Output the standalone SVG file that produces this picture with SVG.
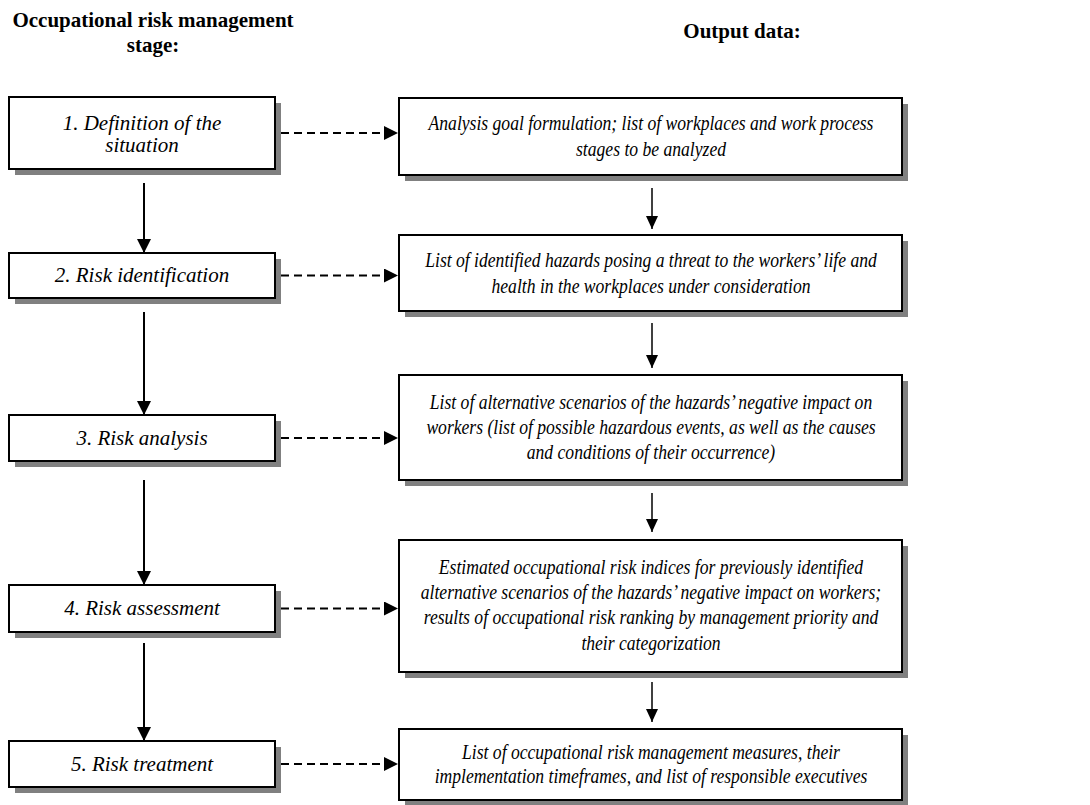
<svg xmlns="http://www.w3.org/2000/svg" width="1090" height="805" viewBox="0 0 1090 805">
<style>
.hdr{font-family:"Liberation Serif","Times New Roman",serif;font-weight:bold;font-size:21px;fill:#000;text-anchor:middle}
.lt{font-family:"Liberation Serif","Times New Roman",serif;font-style:italic;font-size:21px;fill:#000;text-anchor:middle}
.rt{font-family:"Liberation Serif","Times New Roman",serif;font-style:italic;font-size:22px;fill:#000;text-anchor:middle}
.box{fill:#fff;stroke:#000;stroke-width:2}
.shadow{fill:#808080}
.solid{stroke:#000;stroke-width:2;fill:none}
.thin{stroke:#000;stroke-width:1.5;fill:none}
.dash{stroke:#000;stroke-width:2;fill:none;stroke-dasharray:8 5}
</style>
<defs>
<marker id="ah" viewBox="0 0 10 10" refX="10" refY="5" markerWidth="14" markerHeight="14" markerUnits="userSpaceOnUse" orient="auto">
<path d="M0,0 L10,5 L0,10 Z" fill="#000"/>
</marker>
<marker id="ahs" viewBox="0 0 10 10" refX="10" refY="5" markerWidth="13" markerHeight="12" markerUnits="userSpaceOnUse" orient="auto" preserveAspectRatio="none">
<path d="M0,0 L10,5 L0,10 Z" fill="#000"/>
</marker>
</defs>
<rect width="1090" height="805" fill="#fff"/>

<g id="header-left">
<text class="hdr" x="153" y="27">Occupational risk management</text>
<text class="hdr" x="153" y="52">stage:</text>
</g>
<g id="header-right">
<text class="hdr" x="742" y="38">Output data:</text>
</g>

<g id="stage1">
<rect class="shadow" x="15" y="103" width="266" height="72"/>
<rect class="box" x="9" y="97" width="266" height="72"/>
<text class="lt" x="142" y="130">1. Definition of the</text>
<text class="lt" x="142" y="152">situation</text>
</g>
<g id="stage2">
<rect class="shadow" x="15" y="259" width="266" height="45"/>
<rect class="box" x="9" y="253" width="266" height="45"/>
<text class="lt" x="142" y="282">2. Risk identification</text>
</g>
<g id="stage3">
<rect class="shadow" x="15" y="421" width="266" height="46"/>
<rect class="box" x="9" y="415" width="266" height="46"/>
<text class="lt" x="142" y="445">3. Risk analysis</text>
</g>
<g id="stage4">
<rect class="shadow" x="15" y="591" width="266" height="47"/>
<rect class="box" x="9" y="585" width="266" height="47"/>
<text class="lt" x="142" y="615">4. Risk assessment</text>
</g>
<g id="stage5">
<rect class="shadow" x="15" y="747" width="266" height="46"/>
<rect class="box" x="9" y="741" width="266" height="46"/>
<text class="lt" x="142" y="771">5. Risk treatment</text>
</g>

<g id="output1">
<rect class="shadow" x="405" y="104" width="503" height="77"/>
<rect class="box" x="399" y="98" width="503" height="77"/>
<g transform="translate(651 0) scale(0.8 1)">
<text class="rt" x="0" y="130">Analysis goal formulation; list of workplaces and work process</text>
<text class="rt" x="0" y="156">stages to be analyzed</text>
</g>
</g>
<g id="output2">
<rect class="shadow" x="405" y="241" width="503" height="76"/>
<rect class="box" x="399" y="235" width="503" height="76"/>
<g transform="translate(651 0) scale(0.8 1)">
<text class="rt" x="0" y="267">List of identified hazards posing a threat to the workers’ life and</text>
<text class="rt" x="0" y="293">health in the workplaces under consideration</text>
</g>
</g>
<g id="output3">
<rect class="shadow" x="405" y="381" width="503" height="105"/>
<rect class="box" x="399" y="375" width="503" height="105"/>
<g transform="translate(651 0) scale(0.8 1)">
<text class="rt" x="0" y="409">List of alternative scenarios of the hazards’ negative impact on</text>
<text class="rt" x="0" y="434">workers (list of possible hazardous events, as well as the causes</text>
<text class="rt" x="0" y="459">and conditions of their occurrence)</text>
</g>
</g>
<g id="output4">
<rect class="shadow" x="405" y="546" width="503" height="132"/>
<rect class="box" x="399" y="540" width="503" height="132"/>
<g transform="translate(651 0) scale(0.8 1)">
<text class="rt" x="0" y="574">Estimated occupational risk indices for previously identified</text>
<text class="rt" x="0" y="599">alternative scenarios of the hazards’ negative impact on workers;</text>
<text class="rt" x="0" y="624">results of occupational risk ranking by management priority and</text>
<text class="rt" x="0" y="650">their categorization</text>
</g>
</g>
<g id="output5">
<rect class="shadow" x="405" y="735" width="503" height="71"/>
<rect class="box" x="399" y="729" width="503" height="71"/>
<g transform="translate(651 0) scale(0.8 1)">
<text class="rt" x="0" y="759">List of occupational risk management measures, their</text>
<text class="rt" x="0" y="783">implementation timeframes, and list of responsible executives</text>
</g>
</g>

<g id="connectors">
<line class="solid" x1="144" y1="183" x2="144" y2="253" marker-end="url(#ah)"/>
<line class="solid" x1="144" y1="312" x2="144" y2="415" marker-end="url(#ah)"/>
<line class="solid" x1="144" y1="480" x2="144" y2="585" marker-end="url(#ah)"/>
<line class="solid" x1="144" y1="643" x2="144" y2="741" marker-end="url(#ah)"/>
<line class="thin" x1="652" y1="188" x2="652" y2="229" marker-end="url(#ahs)"/>
<line class="thin" x1="652" y1="323" x2="652" y2="368" marker-end="url(#ahs)"/>
<line class="thin" x1="652" y1="493" x2="652" y2="532" marker-end="url(#ahs)"/>
<line class="thin" x1="652" y1="682" x2="652" y2="722" marker-end="url(#ahs)"/>
<line class="dash" x1="281" y1="133" x2="398" y2="133" marker-end="url(#ah)"/>
<line class="dash" x1="281" y1="275.5" x2="398" y2="275.5" marker-end="url(#ah)"/>
<line class="dash" x1="281" y1="438" x2="398" y2="438" marker-end="url(#ah)"/>
<line class="dash" x1="281" y1="608.5" x2="398" y2="608.5" marker-end="url(#ah)"/>
<line class="dash" x1="281" y1="764" x2="398" y2="764" marker-end="url(#ah)"/>
</g>
</svg>
